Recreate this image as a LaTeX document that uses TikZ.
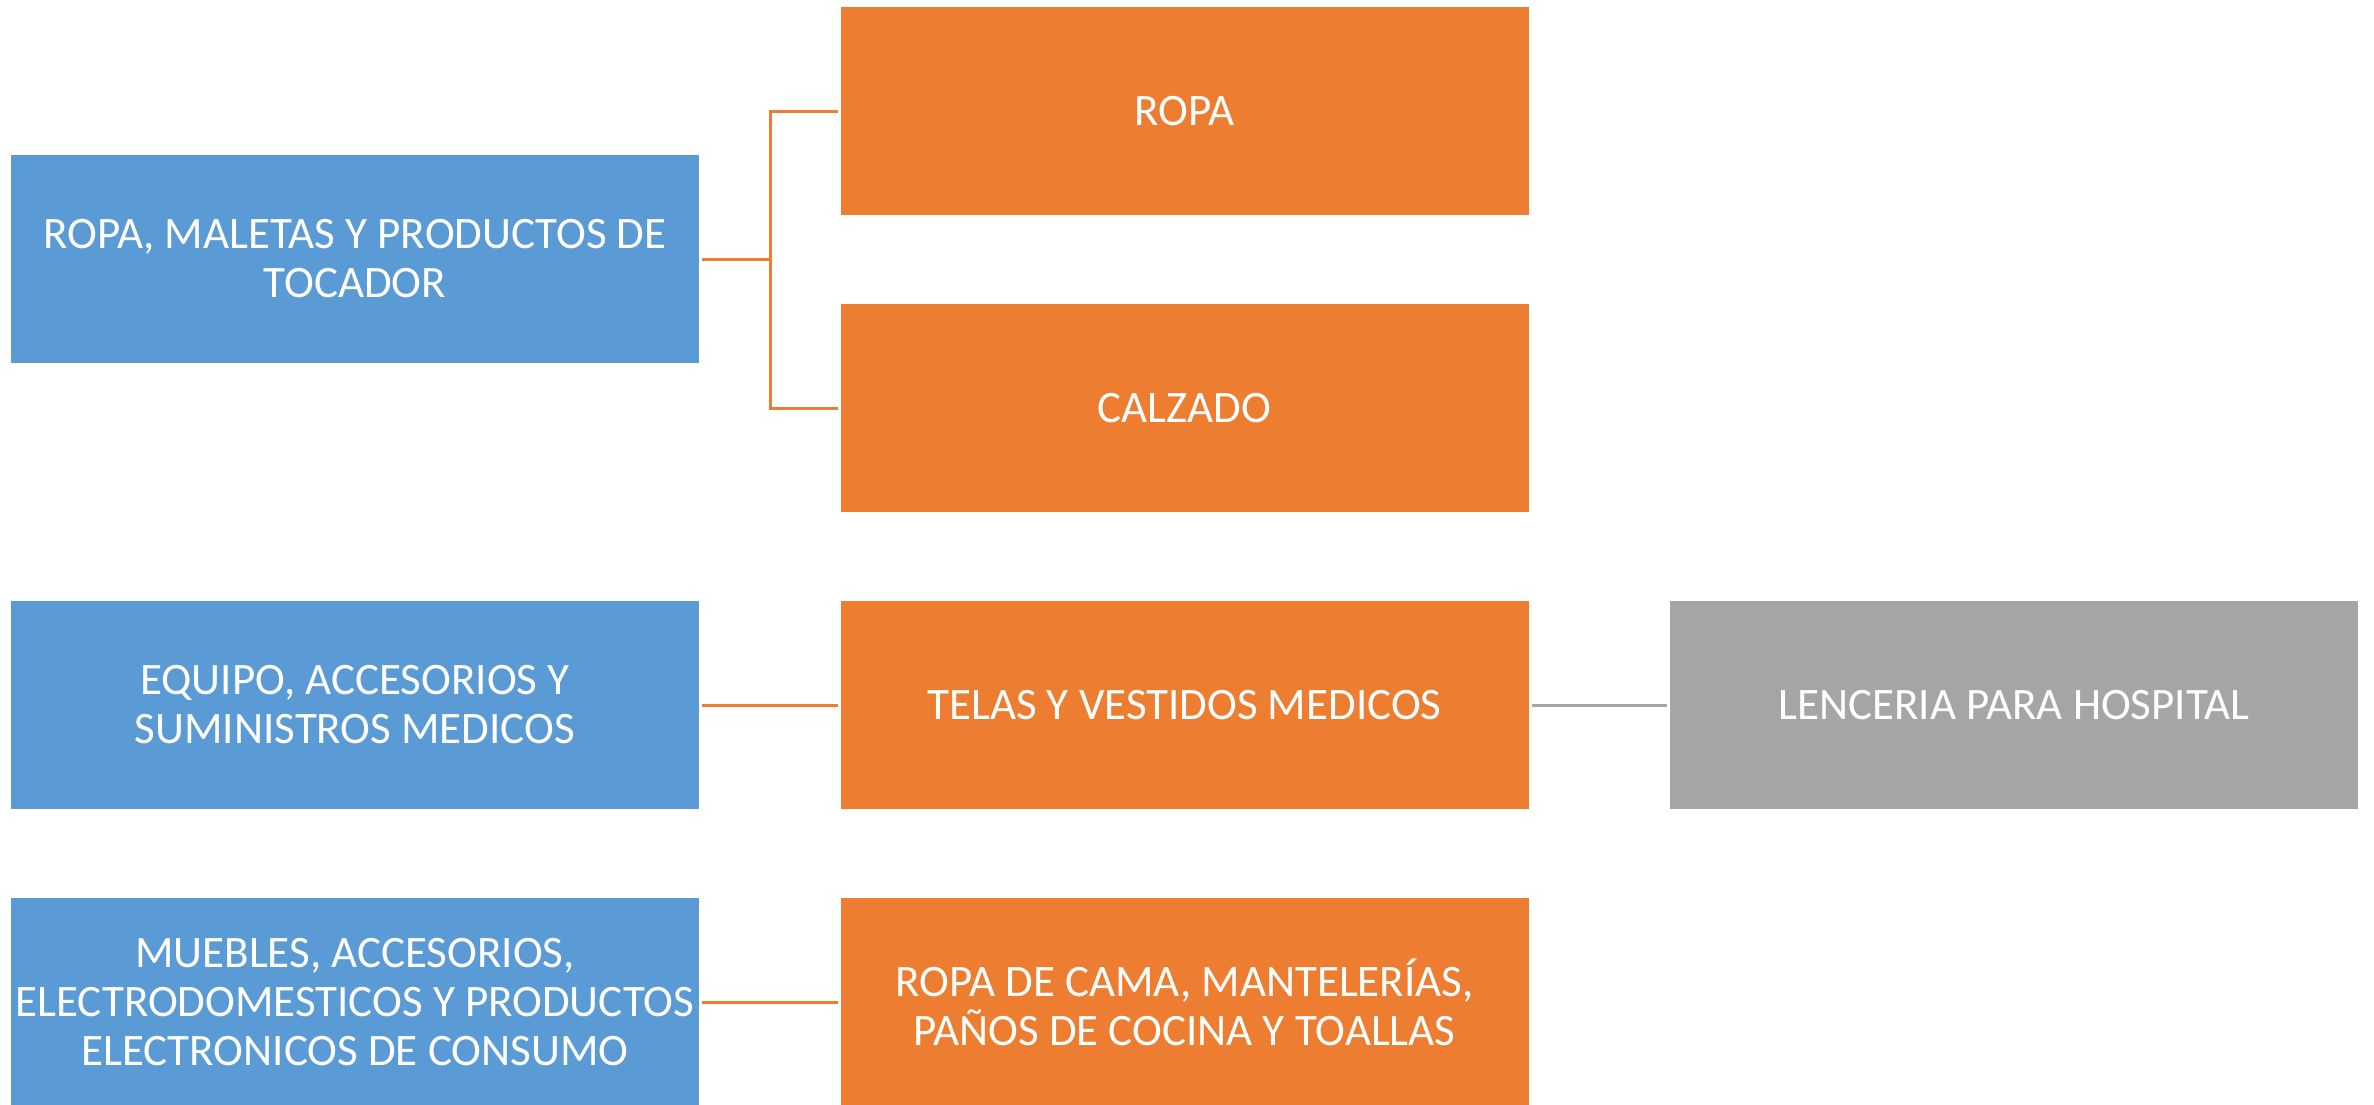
\documentclass[tikz,border=0pt]{standalone}
\usepackage{fontspec}
\setmainfont{Carlito}
\usetikzlibrary{calc}
\definecolor{cblue}{HTML}{5B9BD5}
\definecolor{corange}{HTML}{ED7D31}
\definecolor{cgray}{HTML}{A5A5A5}
\tikzset{
  box/.style={rectangle, minimum width=688pt, minimum height=208pt, inner sep=0pt, text=white, align=center,
    font=\fontsize{45}{49}\selectfont},
  bluebox/.style={box, fill=cblue},
  orangebox/.style={box, fill=corange},
  graybox/.style={box, fill=cgray},
  oconn/.style={draw=corange, line width=3pt},
  gconn/.style={draw=cgray, line width=3pt}
}
\begin{document}
\begin{tikzpicture}[x=1pt,y=-1pt]
\useasboundingbox (0,0) rectangle (2374,1104);
\node[bluebox] (b1) at (355,259) {ROPA, MALETAS Y PRODUCTOS DE\\TOCADOR};
\node[bluebox] (b2) at (355,705) {EQUIPO, ACCESORIOS Y\\SUMINISTROS MEDICOS};
\node[bluebox] (b3) at (355,1002) {MUEBLES, ACCESORIOS,\\ELECTRODOMESTICOS Y PRODUCTOS\\ELECTRONICOS DE CONSUMO};
\node[orangebox] (ropa) at (1184.5,111) {ROPA};
\node[orangebox] (calz) at (1184.5,408) {CALZADO};
\node[orangebox] (telas) at (1184.5,705) {TELAS Y VESTIDOS MEDICOS};
\node[orangebox] (cama) at (1184.5,1002) {ROPA DE CAMA, MANTELERÍAS,\\PAÑOS DE COCINA Y TOALLAS};
\node[graybox] (lenc) at (2014,705) {LENCERIA PARA HOSPITAL};
\coordinate (j) at (770,408);
\draw[oconn] ([xshift=3pt]b1.east) -- (b1.east -| j);
\draw[oconn] ([xshift=-2pt]ropa.west) -| (j) -- ([xshift=-2pt]calz.west);
\draw[oconn] ([xshift=3pt]b2.east) -- ([xshift=-2pt]telas.west);
\draw[oconn] ([xshift=3pt]b3.east) -- ([xshift=-2pt]cama.west);
\draw[gconn] ([xshift=3pt]telas.east) -- ([xshift=-3pt]lenc.west);
\end{tikzpicture}
\end{document}
